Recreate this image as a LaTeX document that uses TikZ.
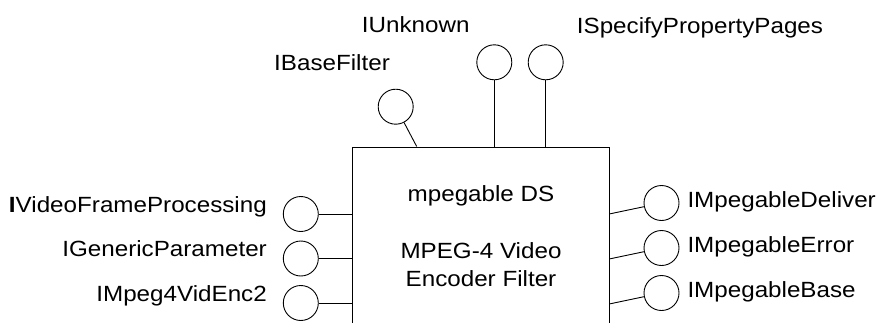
\documentclass[tikz,border=0pt]{standalone}
\usepackage{fontspec}
\setmainfont{Liberation Sans}[FakeStretch=1.1]
\usetikzlibrary{positioning}
\tikzset{
  port/.style={circle, draw, line width=0.9pt, minimum size=35pt, inner sep=0pt},
  lbl/.style={font=\fontsize{22}{26}\selectfont, inner sep=0pt},
  wire/.style={line width=0.9pt}
}

\begin{document}
\begin{tikzpicture}[x=1pt, y=-1pt]
    \useasboundingbox (0,0) rectangle (879,322);
    \clip (0,0) rectangle (879,322);

    % filter box, runs off the bottom edge
    \node[draw, line width=0.9pt, minimum width=257pt, minimum height=200pt,
          inner sep=0pt, anchor=north west] (filter) at (352.2,146.5) {};
    \node[lbl, anchor=base] (ds) at (481,201.7) {mpegable DS};
    \node[lbl, anchor=base] (enc1) at (481,258.3) {MPEG-4 Video};
    \node[lbl, anchor=base] (enc2) at (481,286.7) {Encoder Filter};

    % interfaces on top
    \node[port] (basef) at (395.7,106.7) {};
    \node[port] (unk) at (494.3,62.3) {};
    \node[port] (spp) at (545.7,62.3) {};
    \node[lbl, anchor=base west] (basef-l) at (274,70) {IBaseFilter};
    \node[lbl, anchor=base west] (unk-l) at (361.7,32.7) {IUnknown};
    \node[lbl, anchor=base west] (spp-l) at (576.7,33.3) {ISpecifyPropertyPages};
    \coordinate (basef-foot) at (416.7,146.5);
    \draw[wire] (basef) -- (basef-foot);
    \draw[wire] (unk) -- (unk |- filter.north);
    \draw[wire] (spp) -- (spp |- filter.north);

    % interfaces on the left
    \foreach \id/\y/\txt in {vfp/214/{\textbf{I}VideoFrameProcessing},
                             gen/258.5/IGenericParameter, enc/303/IMpeg4VidEnc2} {
        \node[port] (\id) at (300.8,\y) {};
        \node[lbl, anchor=base east] (\id-l) at (267,\y-2) {\txt};
        \draw[wire] (\id) -- (\id -| filter.west);
    }

    % interfaces on the right
    \foreach \id/\y/\txt in {dlv/203/IMpegableDeliver, err/248/IMpegableError,
                             bas/293/IMpegableBase} {
        \node[port] (\id) at (661.5,\y) {};
        \node[lbl, anchor=base west] (\id-l) at (687.3,\y+4) {\txt};
        \coordinate (\id-foot) at (609.2,\y+11);
        \draw[wire] (\id-foot) -- (\id);
    }
\end{tikzpicture}
\end{document}
